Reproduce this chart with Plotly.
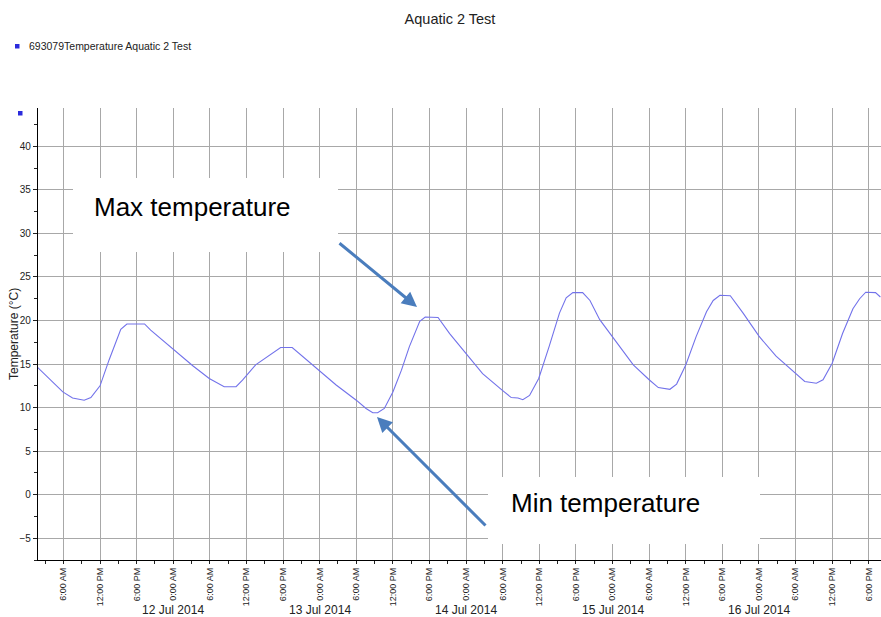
import plotly.graph_objects as go

# ---------------- data ----------------
times = [
    "2014-07-11 01:48", "2014-07-11 05:54", "2014-07-11 07:30", "2014-07-11 08:30",
    "2014-07-11 09:24", "2014-07-11 10:30", "2014-07-11 12:00", "2014-07-11 13:30",
    "2014-07-11 15:24", "2014-07-11 16:24", "2014-07-11 19:18", "2014-07-11 20:18",
    "2014-07-11 23:54", "2014-07-12 03:12", "2014-07-12 05:54", "2014-07-12 08:21",
    "2014-07-12 10:18", "2014-07-12 11:21", "2014-07-12 13:30", "2014-07-12 15:42",
    "2014-07-12 17:36", "2014-07-12 19:30", "2014-07-12 22:24", "2014-07-13 00:00",
    "2014-07-13 02:42", "2014-07-13 06:00", "2014-07-13 07:36", "2014-07-13 08:42",
    "2014-07-13 09:30", "2014-07-13 10:36", "2014-07-13 12:00", "2014-07-13 13:24",
    "2014-07-13 14:42", "2014-07-13 16:24", "2014-07-13 17:18", "2014-07-13 19:24",
    "2014-07-13 21:18", "2014-07-14 00:00", "2014-07-14 02:42", "2014-07-14 05:54",
    "2014-07-14 07:24", "2014-07-14 08:30", "2014-07-14 09:18", "2014-07-14 10:24",
    "2014-07-14 11:54", "2014-07-14 13:36", "2014-07-14 15:18", "2014-07-14 16:24",
    "2014-07-14 17:30", "2014-07-14 19:06", "2014-07-14 20:18", "2014-07-14 21:54",
    "2014-07-15 00:00", "2014-07-15 03:24", "2014-07-15 06:00", "2014-07-15 07:30",
    "2014-07-15 09:24", "2014-07-15 10:30", "2014-07-15 12:00", "2014-07-15 13:42",
    "2014-07-15 15:24", "2014-07-15 16:30", "2014-07-15 17:36", "2014-07-15 19:18",
    "2014-07-15 21:24", "2014-07-16 00:00", "2014-07-16 02:48", "2014-07-16 06:00",
    "2014-07-16 07:30", "2014-07-16 09:24", "2014-07-16 10:30", "2014-07-16 12:00",
    "2014-07-16 13:42", "2014-07-16 15:24", "2014-07-16 16:30", "2014-07-16 17:30",
    "2014-07-16 19:06", "2014-07-16 19:54",
]
temps = [
    14.6, 11.8, 11.1, 11.0,
    10.85, 11.15, 12.5, 15.5,
    19.0, 19.6, 19.6, 18.9,
    16.8, 14.8, 13.35, 12.4,
    12.4, 13.15, 14.9, 16.0,
    16.9, 16.9, 15.15, 14.2,
    12.6, 10.85, 9.9, 9.4,
    9.4, 9.9, 11.8, 14.3,
    17.0, 19.9, 20.4, 20.35,
    18.5, 16.2, 13.9, 12.0,
    11.15, 11.1, 10.9, 11.4,
    13.35, 17.0, 20.85, 22.6,
    23.2, 23.2, 22.3, 20.1,
    18.15, 14.9, 13.2, 12.3,
    12.1, 12.7, 14.9, 18.15,
    21.0, 22.3, 22.9, 22.85,
    20.85, 18.2, 15.9, 13.9,
    13.0, 12.8, 13.2, 15.1,
    18.5, 21.35, 22.5, 23.25,
    23.2, 22.7,
]

x_tick_vals = [
    "2014-07-11 06:00", "2014-07-11 12:00", "2014-07-11 18:00",
    "2014-07-12 00:00", "2014-07-12 06:00", "2014-07-12 12:00", "2014-07-12 18:00",
    "2014-07-13 00:00", "2014-07-13 06:00", "2014-07-13 12:00", "2014-07-13 18:00",
    "2014-07-14 00:00", "2014-07-14 06:00", "2014-07-14 12:00", "2014-07-14 18:00",
    "2014-07-15 00:00", "2014-07-15 06:00", "2014-07-15 12:00", "2014-07-15 18:00",
    "2014-07-16 00:00", "2014-07-16 06:00", "2014-07-16 12:00", "2014-07-16 18:00",
]
x_tick_labels = [
    "6:00 AM", "12:00 PM", "6:00 PM",
    "0:00 AM", "6:00 AM", "12:00 PM", "6:00 PM",
    "0:00 AM", "6:00 AM", "12:00 PM", "6:00 PM",
    "0:00 AM", "6:00 AM", "12:00 PM", "6:00 PM",
    "0:00 AM", "6:00 AM", "12:00 PM", "6:00 PM",
    "0:00 AM", "6:00 AM", "12:00 PM", "6:00 PM",
]
day_dates = ["2014-07-12 00:00", "2014-07-13 00:00", "2014-07-14 00:00",
             "2014-07-15 00:00", "2014-07-16 00:00"]
day_labels = ["12 Jul 2014", "13 Jul 2014", "14 Jul 2014", "15 Jul 2014", "16 Jul 2014"]

title_text = "Aquatic 2 Test"
series_name = "693079Temperature Aquatic 2 Test"
y_title = "Temperature (°C)"

# ---------------- layout helpers ----------------
W, H = 881, 617
L, R, T, B = 38, 881, 108, 560
FONT = "Liberation Sans, Arial, sans-serif"


def px(xp):
    return (xp - L) / (R - L)


def py(yp):
    return (B - yp) / (B - T)


fig = go.Figure()
fig.add_trace(go.Scatter(
    x=times, y=temps, mode="lines", name=series_name, showlegend=False,
    line=dict(color="#7272ea", width=1.1),
))

grid_col = "#a8a8a8"

fig.update_layout(
    width=W, height=H,
    margin=dict(l=L, r=W - R, t=T, b=H - B, autoexpand=False),
    paper_bgcolor="white", plot_bgcolor="white",
    font=dict(family=FONT, color="#222"),
    title=dict(text=title_text, x=450 / W, xanchor="center", xref="container",
               y=1 - 19 / H, yanchor="middle", yref="container",
               font=dict(size=14.5, color="#222", family=FONT)),
    xaxis=dict(
        type="date",
        range=["2014-07-11 01:50", "2014-07-16 20:00"],
        tickmode="array", tickvals=x_tick_vals, ticktext=x_tick_labels,
        tickangle=-90, tickfont=dict(size=9, color="#222"),
        ticks="outside", ticklen=3, tickcolor="#222",
        showgrid=True, gridcolor=grid_col, gridwidth=1,
        showline=True, linecolor="black", linewidth=1.2,
        zeroline=False, automargin=False,
        minor=dict(dtick=3 * 3600 * 1000, tick0="2014-07-11 00:00",
                   ticks="outside", ticklen=3, tickcolor="#222", showgrid=False),
    ),
    yaxis=dict(
        range=[-7.5, 44.4],
        tickmode="linear", tick0=0, dtick=5,
        tickfont=dict(size=10, color="#222"),
        ticks="outside", ticklen=4, tickcolor="#222",
        showgrid=True, gridcolor=grid_col, gridwidth=1,
        showline=True, linecolor="black", linewidth=1.2,
        zeroline=False, automargin=False,
        minor=dict(dtick=2.5, tick0=0, ticks="outside", ticklen=3,
                   tickcolor="#222", showgrid=False),
    ),
)

shapes = [
    # white callout boxes hiding the grid
    dict(type="rect", xref="paper", yref="paper",
         x0=px(73), x1=px(338), y0=py(252), y1=py(178),
         fillcolor="white", line=dict(width=0), layer="above"),
    dict(type="rect", xref="paper", yref="paper",
         x0=px(488), x1=px(760), y0=py(544), y1=py(477),
         fillcolor="white", line=dict(width=0), layer="above"),
    # legend marker
    dict(type="rect", xref="paper", yref="paper",
         x0=px(15), x1=px(19.5), y0=py(48.5), y1=py(44),
         fillcolor="#2b2bdc", line=dict(width=0), layer="above"),
    # small marker at top of axis
    dict(type="rect", xref="paper", yref="paper",
         x0=px(18), x1=px(22.5), y0=py(115.5), y1=py(111),
         fillcolor="#2b2bdc", line=dict(width=0), layer="above"),
]
fig.update_layout(shapes=shapes)

annotations = [
    dict(text=series_name, xref="paper", yref="paper", x=px(27), y=py(46),
         xanchor="left", yanchor="middle", showarrow=False,
         font=dict(size=10.5, color="#222", family=FONT)),
    dict(text=y_title, xref="paper", yref="paper", x=px(14), y=0.5,
         xanchor="center", yanchor="middle", textangle=-90, showarrow=False,
         font=dict(size=12, color="#222", family=FONT)),
    dict(text="Max temperature", xref="paper", yref="paper", x=px(92), y=py(207),
         xanchor="left", yanchor="middle", showarrow=False,
         font=dict(size=26, color="black", family=FONT)),
    dict(text="Min temperature", xref="paper", yref="paper", x=px(509), y=py(503),
         xanchor="left", yanchor="middle", showarrow=False,
         font=dict(size=26, color="black", family=FONT)),
    dict(text="", xref="paper", yref="paper", x=px(417), y=py(307),
         showarrow=True, ax=-79, ay=-65, arrowhead=2, arrowsize=1,
         arrowwidth=3, arrowcolor="#4a7dbd", standoff=0),
    dict(text="", xref="paper", yref="paper", x=px(377), y=py(417),
         showarrow=True, ax=110, ay=110, arrowhead=2, arrowsize=1,
         arrowwidth=3, arrowcolor="#4a7dbd", standoff=0),
]
for d, lab in zip(day_dates, day_labels):
    annotations.append(dict(text=lab, xref="x", yref="paper", x=d, y=py(610),
                            xanchor="center", yanchor="middle", showarrow=False,
                            font=dict(size=12, color="#222", family=FONT)))
fig.update_layout(annotations=annotations)

fig.write_html(
    "out.html",
    config={"displayModeBar": False},
    post_script="document.body.style.margin='0';document.body.style.padding='0';",
)
